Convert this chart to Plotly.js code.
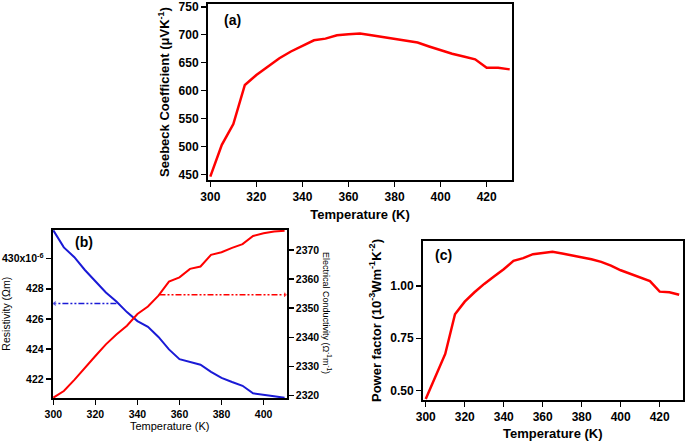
<!DOCTYPE html>
<html>
<head>
<meta charset="utf-8">
<script src="https://cdn.plot.ly/plotly-3.0.1.min.js"></script>
<style>
html,body{margin:0;padding:0;background:#fff;}
#chart{width:685px;height:445px;}
</style>
</head>
<body>
<div id="chart"></div>
<script>
// ---------- DATA ----------
const tempA = [300,305,310,315,320,325,330,335,340,345,350,355,360,365,370,375,380,385,390,395,400,405,410,415,420,425,430];
const seebeck = [446,503,540,610,628,643,658,670,680,690,693,699,701,702,699,696,693,690,686,679,672,666,661,656,641,641,638];

const tempB = [300,305,310,315,320,325,330,335,340,345,350,355,360,365,370,375,380,385,390,395,400,405,410];
const resistivity = [431.88,430.75,430.1,429.25,428.5,427.75,427.15,426.45,425.85,425.47,424.8,423.97,423.32,423.12,422.95,422.48,422.08,421.8,421.55,421.05,420.93,420.85,420.76];
const conductivity = [2319.3,2321.6,2325.4,2329.6,2333.6,2337.6,2341.0,2344.0,2348.0,2350.6,2354.3,2359.1,2360.6,2363.5,2364.3,2368.3,2369.2,2370.7,2372.0,2374.8,2375.7,2376.3,2376.6];

const tempC = [300,305,310,315,320,325,330,335,340,345,350,355,360,365,370,375,380,385,390,395,400,405,410,415,420,425,430];
const powerFactor = [0.46,0.565,0.675,0.865,0.925,0.97,1.01,1.045,1.08,1.12,1.133,1.152,1.158,1.163,1.155,1.147,1.138,1.128,1.115,1.097,1.075,1.057,1.04,1.023,0.973,0.97,0.958];

// guide arrows in panel (b)
const arrowResT = [330, 300.6];
const arrowResV = [427.02, 427.02];
const arrowCondT = [350.5, 410.2];
const arrowCondV = [2354.6, 2354.6];

const resTickVals = [422,424,426,428,430];
const resTickText = ['422','424','426','428','430x10<sup>-6</sup>'];

// ---------- STYLE ----------
const FONT = 'Arial, "Liberation Sans", sans-serif';
const RED = '#ff0000';
const BLUE = '#1a1ad6';
const W = 685, H = 445;
const M = {l:40, r:2, t:3, b:40};
const PW = W - M.l - M.r, PH = H - M.t - M.b;
const dx = (a, b) => [(a - M.l) / PW, (b - M.l) / PW];
const dy = (top, bot) => [1 - (bot - M.t) / PH, 1 - (top - M.t) / PH];

const AX = {
  xa:  {dom:dx(208,512),     range:[299,431]},
  ya:  {dom:dy(4,180),       range:[440,755]},
  xb:  {dom:dx(52.7,286.7),  range:[299.7,411]},
  ybl: {dom:dy(229.5,398),   range:[420.74,431.94]},
  ybr: {dom:dy(229.5,398),   range:[2319.2,2377]},
  xc:  {dom:dx(423,682.7),   range:[298.6,431.8]},
  yc:  {dom:dy(241,400),     range:[0.455,1.215]}
};

function baseAxis(extra){
  return Object.assign({
    showline:true, linecolor:'#000', linewidth:2, mirror:true,
    ticks:'outside', ticklen:5, tickwidth:1.5, tickcolor:'#000',
    showgrid:false, zeroline:false, ticklabeloverflow:'allow',
    tickfont:{family:FONT, size:12, color:'#000', weight:'bold'}
  }, extra);
}

// ---------- tick marks as marker traces placed through the axes' own scales ----------
function tickList(step, r0, r1){
  const out = [];
  const start = Math.ceil(r0 / step - 1e-9);
  for(let i = start; i * step <= r1 + 1e-9; i++) out.push(Math.round(i * step * 10000) / 10000);
  return out;
}
const unitsPerPx = (ax, span) => (ax.range[1] - ax.range[0]) / ((ax.dom[1] - ax.dom[0]) * span);
const tickTraces = [];
function addTicks(dir, ax, other, xaxis, yaxis, major, minor, side, majList){
  const maj = majList || tickList(major, ax.range[0], ax.range[1]);
  const mnr = minor ? tickList(minor, ax.range[0], ax.range[1]).filter(v => !maj.some(m => Math.abs(m - v) < 1e-6)) : [];
  const oupp = unitsPerPx(other, dir === 'x' ? PH : PW);
  [[maj, 6, 1.5], [mnr, 4, 1.2]].forEach(([vals, len, w]) => {
    if(!vals.length) return;
    const off = (1.5 + len / 2) * oupp;
    const edge = side === 'high' ? other.range[1] + off : other.range[0] - off;
    const pos = vals.map(() => edge);
    tickTraces.push({
      x: dir === 'x' ? vals : pos, y: dir === 'x' ? pos : vals,
      xaxis, yaxis, mode:'markers', cliponaxis:false, hoverinfo:'skip', showlegend:false,
      marker:{symbol: dir === 'x' ? 'line-ns-open' : 'line-ew-open', size:len,
              color:'#000', line:{color:'#000', width:w}}
    });
  });
}
addTicks('x', AX.xa, AX.ya, 'x', 'y', 20, 2, 'low');
addTicks('y', AX.ya, AX.xa, 'x', 'y', 50, null, 'low');
addTicks('x', AX.xb, AX.ybl, 'x2', 'y2', 20, 2, 'low');
addTicks('y', AX.ybl, AX.xb, 'x2', 'y2', 2, 0.4, 'low', resTickVals);
addTicks('y', AX.ybr, AX.xb, 'x2', 'y3', 10, 2, 'high');
addTicks('x', AX.xc, AX.yc, 'x3', 'y4', 20, 5, 'low');
addTicks('y', AX.yc, AX.xc, 'x3', 'y4', 0.25, 0.05, 'low');

const traces = [
  {x:tempA, y:seebeck, xaxis:'x', yaxis:'y', mode:'lines', line:{color:RED, width:2.5}, showlegend:false},
  {x:tempB, y:resistivity, xaxis:'x2', yaxis:'y2', mode:'lines', line:{color:BLUE, width:2}, showlegend:false},
  {x:tempB, y:conductivity, xaxis:'x2', yaxis:'y3', mode:'lines', line:{color:RED, width:2}, showlegend:false},
  {x:arrowResT, y:arrowResV, xaxis:'x2', yaxis:'y2', mode:'lines+markers',
   line:{color:BLUE, width:1.5, dash:'6px,2px,2px,2px,2px,2px'},
   marker:{symbol:'triangle-left', size:[0,6], color:BLUE}, showlegend:false},
  {x:arrowCondT, y:arrowCondV, xaxis:'x2', yaxis:'y3', mode:'lines+markers',
   line:{color:RED, width:1.5, dash:'6px,2px,2px,2px,2px,2px'},
   marker:{symbol:'triangle-right', size:[0,6], color:RED}, showlegend:false},
  {x:tempC, y:powerFactor, xaxis:'x3', yaxis:'y4', mode:'lines', line:{color:RED, width:2.5}, showlegend:false}
].concat(tickTraces);

const layout = {
  width:W, height:H,
  margin:M,
  paper_bgcolor:'#fff', plot_bgcolor:'#fff',
  font:{family:FONT, color:'#000'},
  showlegend:false,
  // (a)
  xaxis: baseAxis({domain:AX.xa.dom, anchor:'y', range:AX.xa.range, dtick:20, tick0:300,
    title:{text:'Temperature (K)', font:{family:FONT, size:13, weight:'bold'}, standoff:6}}),
  yaxis: baseAxis({domain:AX.ya.dom, anchor:'x', range:AX.ya.range, dtick:50, tick0:450,
    title:{text:'Seebeck Coefficient (\u03bcVK<sup>-1</sup>)', font:{family:FONT, size:13, weight:'bold'}, standoff:6}}),
  // (b)
  xaxis2: baseAxis({domain:AX.xb.dom, anchor:'y2', range:AX.xb.range, dtick:20, tick0:300,
    tickfont:{family:FONT, size:10.5, weight:'bold'},
    title:{text:'Temperature (K)', font:{family:FONT, size:11}, standoff:1}}),
  yaxis2: baseAxis({domain:AX.ybl.dom, anchor:'x2', range:AX.ybl.range, mirror:false,
    tickvals:resTickVals, ticktext:resTickText,
    tickfont:{family:FONT, size:10.5, weight:'bold'},
    title:{text:'Resistivity (\u03a9m)', font:{family:FONT, size:10.5}, standoff:4}}),
  yaxis3: baseAxis({domain:AX.ybr.dom, anchor:'x2', overlaying:'y2', side:'right', mirror:false,
    range:AX.ybr.range, dtick:10, tick0:2320,
    tickfont:{family:FONT, size:10.5, weight:'bold'}}),
  // (c)
  xaxis3: baseAxis({domain:AX.xc.dom, anchor:'y4', range:AX.xc.range, dtick:20, tick0:300,
    title:{text:'Temperature (K)', font:{family:FONT, size:13, weight:'bold'}, standoff:5}}),
  yaxis4: baseAxis({domain:AX.yc.dom, anchor:'x3', range:AX.yc.range, dtick:0.25, tick0:0.5, tickformat:'.2f',
    title:{text:'Power factor (10<sup>-3</sup>Wm<sup>-1</sup>K<sup>-2</sup>)', font:{family:FONT, size:13, weight:'bold'}, standoff:6}}),
  annotations:[
    {text:'(a)', xref:'x domain', yref:'y domain', x:0.045, y:0.909, xanchor:'left', yanchor:'middle', showarrow:false,
     font:{family:FONT, size:14, weight:'bold'}},
    {text:'(b)', xref:'x2 domain', yref:'y2 domain', x:0.087, y:0.928, xanchor:'left', yanchor:'middle', showarrow:false,
     font:{family:FONT, size:14, weight:'bold'}},
    {text:'(c)', xref:'x3 domain', yref:'y4 domain', x:0.0385, y:0.912, xanchor:'left', yanchor:'middle', showarrow:false,
     font:{family:FONT, size:14, weight:'bold'}},
    {text:'Electrical Conductivity (\u03a9<sup>-1</sup>m<sup>-1</sup>)', xref:'paper', yref:'paper',
     x:(327 - M.l) / PW, y:1 - (313 - M.t) / PH, textangle:90, showarrow:false,
     xanchor:'center', yanchor:'middle', font:{family:FONT, size:9}}
  ]
};

Plotly.newPlot('chart', traces, layout, {staticPlot:true, displayModeBar:false});
</script>
</body>
</html>
